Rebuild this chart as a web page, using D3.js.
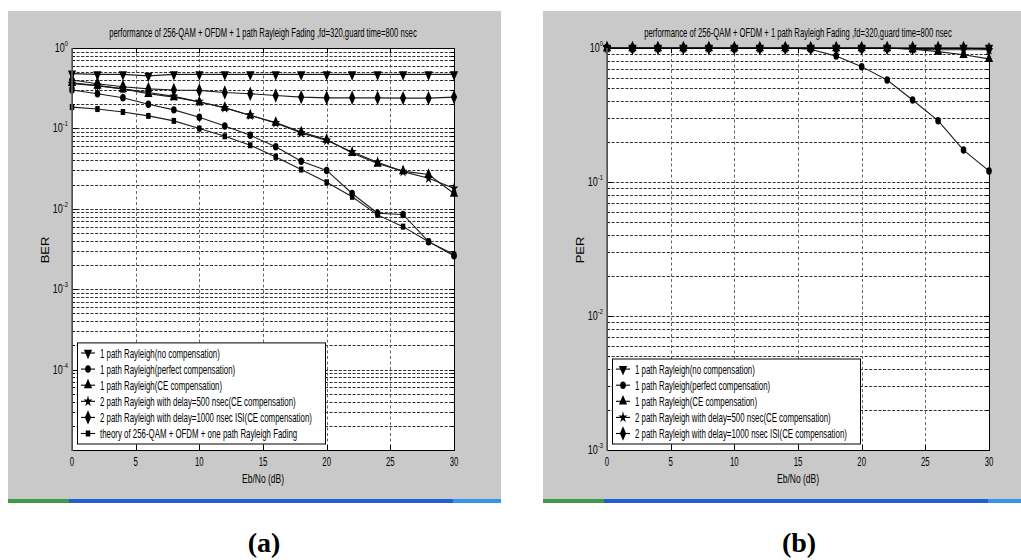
<!DOCTYPE html>
<html>
<head>
<meta charset="utf-8">
<script src="https://cdn.jsdelivr.net/npm/d3@7"></script>
<style>
  body { margin: 0; background: #ffffff; }
  svg { display: block; }
  text { font-family: "Liberation Sans", Arial, sans-serif; fill: #000; }
  text.caption { font-family: "Liberation Serif", "Times New Roman", serif; font-weight: bold; }
</style>
</head>
<body>
<svg id="chart" width="1021" height="560"></svg>
<script>
// ---- data ----
const ebNo = [0, 2, 4, 6, 8, 10, 12, 14, 16, 18, 20, 22, 24, 26, 28, 30];
const xTicks = [0, 5, 10, 15, 20, 25, 30];

const chartTitle = "performance of 256-QAM + OFDM + 1 path Rayleigh Fading ,fd=320,guard time=800 nsec";
const xLabel = "Eb/No (dB)";

// (a) bit error rate
const berNoComp   = [0.48, 0.47, 0.47, 0.45, 0.47, 0.47, 0.47, 0.47, 0.47, 0.47, 0.47, 0.47, 0.47, 0.47, 0.47, 0.47];
const berPerfect  = [0.30, 0.27, 0.24, 0.20, 0.17, 0.138, 0.107, 0.082, 0.059, 0.039, 0.030, 0.0155, 0.0088, 0.0085, 0.0039, 0.0026];
const berCE       = [0.37, 0.34, 0.31, 0.27, 0.245, 0.213, 0.181, 0.145, 0.118, 0.090, 0.0726, 0.0495, 0.0366, 0.0294, 0.0267, 0.0155];
const berDelay500 = [0.36, 0.34, 0.31, 0.28, 0.25, 0.215, 0.18, 0.146, 0.117, 0.088, 0.071, 0.051, 0.038, 0.029, 0.024, 0.018];
const berDelay1000= [0.40, 0.36, 0.33, 0.31, 0.30, 0.297, 0.28, 0.27, 0.257, 0.245, 0.24, 0.24, 0.24, 0.238, 0.238, 0.245];
const berTheory   = [0.184, 0.174, 0.160, 0.143, 0.124, 0.0995, 0.0798, 0.0617, 0.0442, 0.0308, 0.0214, 0.0141, 0.0084, 0.0060, 0.0039, 0.0027];
const berTicks = [1, 1e-1, 1e-2, 1e-3, 1e-4];

// (b) packet error rate
const perNoComp   = [1, 1, 1, 1, 1, 1, 1, 1, 1, 1, 1, 1, 1, 1, 1, 1];
const perPerfect  = [1, 1, 1, 1, 1, 1, 1, 1, 0.98, 0.87, 0.726, 0.577, 0.409, 0.287, 0.173, 0.121];
const perCE       = [1, 1, 1, 1, 1, 1, 1, 1, 1, 1, 1, 1, 0.98, 0.94, 0.89, 0.83];
const perDelay500 = [1, 1, 1, 1, 1, 1, 1, 1, 1, 1, 1, 1, 0.98, 0.97, 0.97, 0.97];
const perDelay1000= [1, 1, 1, 1, 1, 1, 1, 1, 1, 1, 1, 1, 1, 1, 1, 0.98];
const perTicks = [1, 1e-1, 1e-2, 1e-3];

const seriesNames = [
  "1 path Rayleigh(no compensation)",
  "1 path Rayleigh(perfect compensation)",
  "1 path Rayleigh(CE compensation)",
  "2 path Rayleigh with delay=500 nsec(CE compensation)",
  "2 path Rayleigh with delay=1000 nsec ISI(CE compensation)",
  "theory of 256-QAM + OFDM + one path Rayleigh Fading"
];
const markerKinds = ["triDown", "circle", "triUp", "star", "diamond", "square"];

// ---- drawing ----
const svg = d3.select("#chart");
const squeeze = 0.66;   // narrow glyph look of the figure window

function markerPath(kind) {
  const s = d3.symbol();
  switch (kind) {
    case "triDown": case "triUp": return s.type(d3.symbolTriangle).size(52)();
    case "circle":  return s.type(d3.symbolCircle).size(44)();
    case "star":    return s.type(d3.symbolStar).size(42)();
    case "diamond": return s.type(d3.symbolDiamond).size(60)();
    case "square":  return s.type(d3.symbolSquare).size(36)();
  }
}
function markerTransform(kind, px, py) {
  const rot = kind === "triDown" ? " rotate(180)" : "";
  return `translate(${px},${py}) scale(0.75,1)${rot}`;
}

function sqText(parent, x, y, str, size, anchor, sx) {
  return parent.append("text")
    .attr("transform", `translate(${x},${y}) scale(${sx || squeeze},1)`)
    .attr("font-size", size)
    .attr("text-anchor", anchor || "start")
    .text(str);
}

function drawPanel(cfg) {
  const g = svg.append("g");
  const [fx0, fy0, fx1, fy1] = cfg.frame;

  // figure window background and the bar under it
  g.append("rect").attr("x", fx0).attr("y", fy0)
    .attr("width", fx1 - fx0).attr("height", fy1 - fy0).attr("fill", "#c9c9c9");
  g.append("rect").attr("x", fx0).attr("y", fy1).attr("width", fx1 - fx0).attr("height", 4).attr("fill", "#1f5fd4");
  g.append("rect").attr("x", fx0).attr("y", fy1).attr("width", 61).attr("height", 4).attr("fill", "#3d9a47");
  g.append("rect").attr("x", cfg.right - 1).attr("y", fy1).attr("width", fx1 - cfg.right + 1).attr("height", 4).attr("fill", "#3a93ea");

  const x = d3.scaleLinear().domain([0, 30]).range([cfg.left, cfg.right]);
  const y = d3.scaleLog().domain(cfg.yDomain).range([cfg.bottom, cfg.top]);

  // axes area
  g.append("rect").attr("x", cfg.left).attr("y", cfg.top)
    .attr("width", cfg.right - cfg.left).attr("height", cfg.bottom - cfg.top).attr("fill", "#fff");

  // log grid values: every 1..9 x 10^d inside the domain
  const dLo = Math.round(Math.log10(cfg.yDomain[0]));
  const dHi = Math.round(Math.log10(cfg.yDomain[1]));
  const gridVals = [];
  for (let d = dLo; d < dHi; d++) {
    for (let k = 1; k <= 9; k++) gridVals.push(k * Math.pow(10, d));
  }
  const majorVals = gridVals.filter((v, i) => i % 9 === 0);

  const grid = g.append("g").attr("stroke", "#1a1a1a").attr("stroke-width", 0.9)
    .attr("stroke-dasharray", "3,1.6").attr("fill", "none");
  grid.selectAll("line.h").data(gridVals.filter(v => v > cfg.yDomain[0])).join("line")
    .attr("x1", cfg.left).attr("x2", cfg.right)
    .attr("y1", d => Math.round(y(d)) + 0.5).attr("y2", d => Math.round(y(d)) + 0.5);
  grid.selectAll("line.v").data(xTicks.slice(1, -1)).join("line")
    .attr("stroke", "#555").attr("stroke-dasharray", "3,2.5")
    .attr("x1", d => Math.round(x(d)) + 0.5).attr("x2", d => Math.round(x(d)) + 0.5)
    .attr("y1", cfg.top).attr("y2", cfg.bottom);

  // tick marks (inside, on all four sides)
  const ticks = g.append("g").attr("stroke", "#000").attr("stroke-width", 1);
  gridVals.forEach(v => {
    const len = majorVals.includes(v) ? 5 : 3;
    const py = Math.round(y(v)) + 0.5;
    ticks.append("line").attr("x1", cfg.left).attr("x2", cfg.left + len).attr("y1", py).attr("y2", py);
    ticks.append("line").attr("x1", cfg.right).attr("x2", cfg.right - len).attr("y1", py).attr("y2", py);
  });
  xTicks.forEach(v => {
    const px = Math.round(x(v)) + 0.5;
    ticks.append("line").attr("x1", px).attr("x2", px).attr("y1", cfg.bottom).attr("y2", cfg.bottom - 5);
    ticks.append("line").attr("x1", px).attr("x2", px).attr("y1", cfg.top).attr("y2", cfg.top + 5);
  });

  // series
  cfg.series.forEach((vals, si) => {
    const pts = ebNo.map((e, i) => [x(e), y(vals[i])]);
    g.append("path").attr("d", d3.line()(pts))
      .attr("fill", "none").attr("stroke", "#1c1c1c").attr("stroke-width", 1.1);
    const kind = markerKinds[si];
    g.append("g").selectAll("path").data(pts).join("path")
      .attr("d", markerPath(kind))
      .attr("transform", d => markerTransform(kind, d[0], d[1]))
      .attr("fill", "#000");
  });

  // axes box
  g.append("rect").attr("x", cfg.left + 0.5).attr("y", cfg.top + 0.5)
    .attr("width", cfg.right - cfg.left).attr("height", cfg.bottom - cfg.top)
    .attr("fill", "none").attr("stroke", "#000").attr("stroke-width", 1);
  g.append("line").attr("x1", cfg.left).attr("x2", cfg.left).attr("y1", cfg.top).attr("y2", cfg.bottom + 1)
    .attr("stroke", "#666").attr("stroke-width", 1.6);

  // y tick labels 10^n
  cfg.yTicks.forEach(v => {
    const e = Math.round(Math.log10(v));
    const t = g.append("text")
      .attr("transform", `translate(${cfg.left - 4},${y(v) + 4}) scale(0.72,1)`)
      .attr("font-size", 12.5).attr("text-anchor", "end").attr("fill", "#222");
    t.append("tspan").text("10");
    t.append("tspan").attr("dy", -6).attr("font-size", 8).text(String(e));
  });

  // x tick labels
  xTicks.forEach(v => sqText(g, x(v), cfg.bottom + 16, String(v), 13, "middle", 0.6).attr("fill", "#222"));

  // titles
  const cx = (cfg.left + cfg.right) / 2;
  sqText(g, cx, cfg.bottom + 33, xLabel, 12.5, "middle", 0.68);
  sqText(g, cx, 37, chartTitle, 12, "middle", 0.64);
  g.append("text")
    .attr("transform", `translate(${cfg.left - 23},${250}) rotate(-90) scale(1,0.8)`)
    .attr("font-size", 13).attr("text-anchor", "middle").attr("fill", "#222")
    .text(cfg.yLabel);

  // legend
  const n = cfg.series.length;
  const rowH = 16.1;
  const lx = cfg.left + 5;
  const lBottom = 443.5;
  const lTop = lBottom - (n * rowH + 4.5);
  const lg = g.append("g");
  lg.append("rect").attr("x", lx + 0.5).attr("y", lTop + 0.5).attr("width", 248).attr("height", lBottom - lTop)
    .attr("fill", "#fff").attr("stroke", "#000").attr("stroke-width", 1);
  for (let i = 0; i < n; i++) {
    const ry = lBottom - 10 - (n - 1 - i) * rowH;
    lg.append("line").attr("x1", lx + 4).attr("x2", lx + 18).attr("y1", ry).attr("y2", ry)
      .attr("stroke", "#000").attr("stroke-width", 1.1);
    lg.append("path").attr("d", markerPath(markerKinds[i]))
      .attr("transform", markerTransform(markerKinds[i], lx + 11, ry)).attr("fill", "#000");
    sqText(lg, lx + 23, ry + 4.5, seriesNames[i], 12.5, "start", 0.63);
  }

  // panel caption
  svg.append("text").attr("class", "caption")
    .attr("x", cx + 1).attr("y", 552).attr("text-anchor", "middle")
    .attr("font-size", 28).text(cfg.caption);
}

drawPanel({
  frame: [8, 11, 501, 499],
  left: 72, right: 454, top: 48, bottom: 450,
  yDomain: [1e-5, 1], yTicks: berTicks, yLabel: "BER",
  series: [berNoComp, berPerfect, berCE, berDelay500, berDelay1000, berTheory],
  caption: "(a)"
});

drawPanel({
  frame: [543, 11, 1021, 499],
  left: 607, right: 989, top: 48, bottom: 450,
  yDomain: [1e-3, 1], yTicks: perTicks, yLabel: "PER",
  series: [perNoComp, perPerfect, perCE, perDelay500, perDelay1000],
  caption: "(b)"
});
</script>
</body>
</html>
